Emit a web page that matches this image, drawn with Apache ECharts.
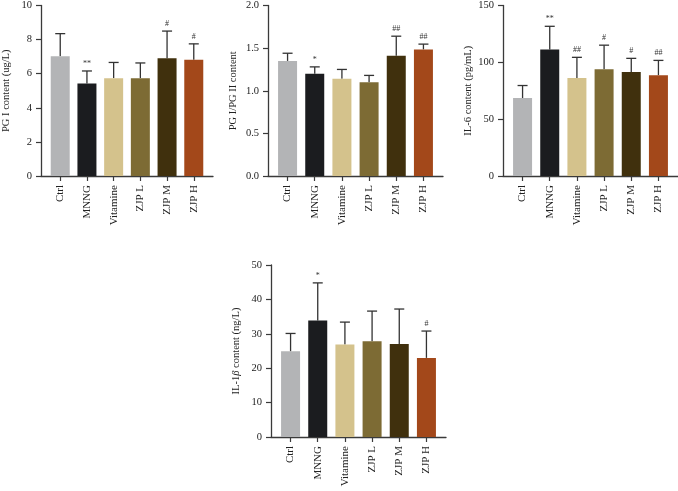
<!DOCTYPE html>
<html>
<head>
<meta charset="utf-8">
<script src="https://cdn.jsdelivr.net/npm/echarts@6/dist/echarts.min.js"></script>
<style>html,body{margin:0;padding:0;background:#fff}#c{width:678px;height:491px}</style>
</head>
<body>
<div id="c"></div>
<script>
const categories = ['Ctrl', 'MNNG', 'Vitamine', 'ZJP L', 'ZJP M', 'ZJP H'];
const barColors = ['#b3b4b6', '#1b1c1f', '#d4c28c', '#7d6b34', '#40300d', '#a3481a'];

const pg1Mean = [7.03, 5.42, 5.74, 5.74, 6.90, 6.82];
const pg1Sd   = [1.32, 0.74, 0.92, 0.89, 1.60, 0.93];
const pg1Marks = ['', '**', '', '', '#', '#'];

const ratioMean = [1.35, 1.20, 1.14, 1.10, 1.41, 1.485];
const ratioSd   = [0.09, 0.08, 0.11, 0.08, 0.23, 0.062];
const ratioMarks = ['', '*', '', '', '##', '##'];

const il6Mean = [68.6, 111.3, 86.3, 93.9, 91.6, 88.7];
const il6Sd   = [11.0, 20.4, 18.1, 21.2, 11.9, 13.0];
const il6Marks = ['', '**', '##', '#', '#', '##'];

const il1bMean = [24.9, 33.9, 26.9, 27.8, 27.0, 23.0];
const il1bSd   = [5.2, 10.9, 6.5, 8.8, 10.2, 7.8];
const il1bMarks = ['', '*', '', '', '', '#'];

const yTicksPg1 = {max: 10, interval: 2, digits: 0};
const yTicksRatio = {max: 2, interval: 0.5, digits: 1};
const yTicksIl6 = {max: 150, interval: 50, digits: 0};
const yTicksIl1b = {max: 50, interval: 10, digits: 0};

const FONT = "'Liberation Serif', 'DejaVu Serif', serif";
const AX = '#3a3a3a';

const panels = [
  {mean: pg1Mean, sd: pg1Sd, marks: pg1Marks, ticks: yTicksPg1, name: 'PG I content (ug/L)', grid: {left: 40, top: 4, width: 173, height: 172}},
  {mean: ratioMean, sd: ratioSd, marks: ratioMarks, ticks: yTicksRatio, name: 'PG I/PG II content', grid: {left: 268, top: 4, width: 175, height: 172}},
  {mean: il6Mean, sd: il6Sd, marks: il6Marks, ticks: yTicksIl6, name: 'IL-6 content (pg/mL)', grid: {left: 503, top: 4, width: 175, height: 172}},
  {mean: il1bMean, sd: il1bSd, marks: il1bMarks, ticks: yTicksIl1b, name: 'IL-1{i|β} content (ng/L)', grid: {left: 271, top: 265, width: 175, height: 172}}
];

const idx = categories.map((c, i) => i);
const option = {animation: false, backgroundColor: '#fff', grid: [], xAxis: [], yAxis: [], series: []};

panels.forEach((p, k) => {
  option.grid.push(Object.assign({containLabel: false}, p.grid));
  option.xAxis.push({
    type: 'value', gridIndex: k, min: -0.72, max: 5.72,
    splitLine: {show: false},
    axisLine: {show: true, onZero: false, lineStyle: {color: AX, width: 1.3}},
    axisTick: {show: true, customValues: idx, length: 5, lineStyle: {color: AX, width: 1.2}},
    axisLabel: {
      customValues: idx, rotate: 90, margin: 9,
      formatter: v => categories[Math.round(v)] || '',
      fontFamily: FONT, fontSize: 11, color: '#222'
    }
  });
  option.yAxis.push({
    type: 'value', gridIndex: k, min: 0, max: p.ticks.max, interval: p.ticks.interval,
    splitLine: {show: false},
    axisLine: {show: true, onZero: false, lineStyle: {color: AX, width: 1.3}},
    axisTick: {show: true, length: 5, lineStyle: {color: AX, width: 1.2}},
    axisLabel: {margin: 9, fontFamily: FONT, fontSize: 10.5, color: '#222',
      formatter: v => v.toFixed(p.ticks.digits)},
    name: p.name, nameLocation: 'middle', nameGap: 29, nameRotate: 90,
    nameTextStyle: {fontFamily: FONT, fontSize: 10.5, color: '#222',
      rich: {i: {fontFamily: FONT, fontSize: 10.5, fontStyle: 'italic', color: '#222'}}}
  });
  option.series.push({
    type: 'custom', xAxisIndex: k, yAxisIndex: k, z: 1,
    data: idx.map(i => [i, p.mean[i], p.mean[i] + p.sd[i]]),
    encode: {x: 0, y: [1, 2]},
    renderItem: (params, api) => {
      const base = api.coord([api.value(0), api.value(1)]);
      const top = api.coord([api.value(0), api.value(2)]);
      const half = 5;
      const children = [
        {type: 'line', shape: {x1: base[0], y1: base[1], x2: top[0], y2: top[1]}, style: {stroke: '#333', lineWidth: 1.3}},
        {type: 'line', shape: {x1: top[0] - half, y1: top[1], x2: top[0] + half, y2: top[1]}, style: {stroke: '#333', lineWidth: 1.3}}
      ];
      const m = p.marks[params.dataIndex];
      if (m) {
        children.push({type: 'text', x: top[0], y: top[1] - 3, style: {text: m, fontFamily: FONT, fontSize: 8, fill: '#333', align: 'center', verticalAlign: 'bottom'}});
      }
      return {type: 'group', children};
    }
  });
  option.series.push({
    type: 'bar', xAxisIndex: k, yAxisIndex: k, barWidth: 19, z: 2,
    data: idx.map(i => ({value: [i, p.mean[i]], itemStyle: {color: barColors[i]}}))
  });
});

const chart = echarts.init(document.getElementById('c'), null, {renderer: 'canvas'});
chart.setOption(option);
</script>
</body>
</html>
